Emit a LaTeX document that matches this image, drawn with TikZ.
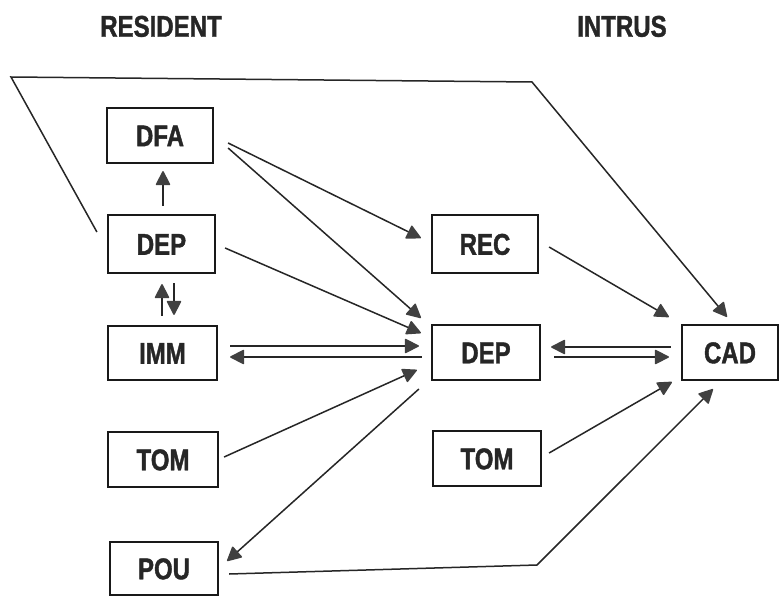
\documentclass[tikz,border=0pt]{standalone}
\usepackage{fontspec}
\setmainfont{Liberation Sans}[FakeStretch=0.8, BoldFeatures={FakeBold=1.3}]
\usetikzlibrary{arrows.meta,calc}
\tikzset{
  box/.style={draw=black!90, line width=2.2pt, minimum width=107pt, minimum height=55pt, inner sep=0pt,
    font=\fontsize{30}{30}\selectfont\bfseries, text height=21.5pt, text depth=0pt, text=black!85},
  head/.style={font=\fontsize{30}{30}\selectfont\bfseries, text height=21.5pt, text depth=0pt, inner sep=0pt, text=black!85},
  arr/.style={line width=1.5pt, draw=black!85, -{Triangle[length=15pt,width=15pt,round,color=black!75,fill=black!75]}},
  ln/.style={line width=1.5pt, draw=black!85}
}
\begin{document}
\begin{tikzpicture}[x=1pt,y=-1pt]
\useasboundingbox[fill=white] (0,0) rectangle (779,596);
\node[head] (hres) at (161,26) {RESIDENT};
\node[head] (hint) at (622,26) {INTRUS};

\node[box, minimum width=106pt] (dfa) at (160,135.5) {DFA};
\node[box, minimum height=58pt] (depL) at (161.5,244) {DEP};
\node[box, minimum width=109pt, minimum height=54pt] (imm) at (162.5,353) {IMM};
\node[box, minimum width=110pt] (tomL) at (163,459.5) {TOM};
\node[box, minimum width=108pt, minimum height=53pt] (pou) at (164,568.5) {POU};
\node[box, minimum width=106pt, minimum height=58pt] (rec) at (485,244) {REC};
\node[box, minimum width=108pt] (depM) at (486,352.5) {DEP};
\node[box, minimum width=108pt] (tomM) at (487,458.5) {TOM};
\node[box, minimum width=96pt] (cad) at (730,352.5) {CAD};

\coordinate (tl) at (11,77);
\coordinate (tr) at (532,82);
\coordinate (bc) at (537,565);

% resident column
\draw[arr] ($(depL.north)+(1.5,-8)$) -- ($(dfa.south)+(3,7)$);
\draw[arr] ($(imm.north)+(-0.5,-9)$) -- ($(depL.south)+(0.5,10)$);
\draw[arr] ($(depL.south)+(12.5,9)$) -- ($(imm.north)+(11.5,-10)$);

% to middle
\draw[arr] ($(dfa.east)+(14,7.5)$) -- ($(rec.west)+(-10,-6)$);
\draw[arr] ($(dfa.east)+(14,12.5)$) -- ($(depM.west)+(-10,-34.5)$);
\draw[arr] ($(depL.east)+(9,4)$) -- ($(depM.west)+(-10,-19.5)$);
\draw[arr] ($(imm.east)+(12,-7)$) -- ($(depM.west)+(-12,-6.5)$);
\draw[arr] ($(depM.west)+(-9,4.5)$) -- ($(imm.east)+(12,4)$);
\draw[arr] ($(tomL.east)+(5,-2.5)$) -- ($(depM.west)+(-14,17.5)$);
\draw[arr] ($(depM.west)+(-12,36.5)$) -- ($(pou.east)+(8,-7.5)$);

% to CAD
\draw[arr] ($(rec.east)+(10,3)$) -- ($(cad.west)+(-12,-35.5)$);
\draw[arr] ($(cad.west)+(-10,-5.5)$) -- ($(depM.east)+(10,-5.5)$);
\draw[arr] ($(depM.east)+(13,4.5)$) -- ($(cad.west)+(-12,4.5)$);
\draw[arr] ($(tomM.east)+(7,-5.5)$) -- ($(cad.west)+(-9,29.5)$);
\draw[arr] ($(pou.east)+(10,5.5)$) -- (bc) -- ($(cad.south)+(-17,8)$);
\draw[arr] ($(depL.west)+(-10,-12)$) -- (tl) -- (tr) -- ($(cad.north)+(-3,-7)$);
\end{tikzpicture}
\end{document}
